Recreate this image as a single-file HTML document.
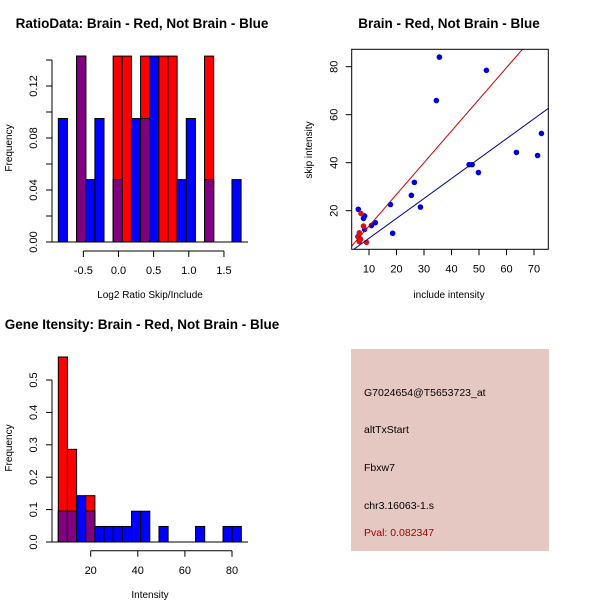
<!DOCTYPE html>
<html><head><meta charset="utf-8"><style>
body{margin:0;background:#fff}
svg{display:block;font-family:"Liberation Sans",sans-serif}
</style></head><body>
<svg id="s" width="600" height="600" xmlns="http://www.w3.org/2000/svg">
<rect width="600" height="600" fill="#fff"/>
</svg>
<script>
// ---------- Data ----------
const ratioBinStart = -0.856;
const ratioBinWidth = 0.130;
const ratioRed  = [0,0,0.143,0,0,0,0.143,0.143,0,0.143,0,0.143,0.143,0,0,0,0.143,0,0,0];
const ratioBlue = [0.095,0,0.143,0.048,0.095,0,0.048,0,0.095,0.095,0.143,0,0,0.048,0.095,0,0.048,0,0,0.048];
const ratioXTicks = [-0.5,0.0,0.5,1.0,1.5];
const ratioXTickLabels = ["-0.5","0.0","0.5","1.0","1.5"];
const ratioYTicks = [0,0.02,0.04,0.06,0.08,0.10,0.12,0.14];
const ratioYTickLabels = ["0.00","","0.04","","0.08","","0.12",""];

const scatterBlueX = [6.1,6.0,8.0,8.4,8.4,10.9,12.3,17.8,18.6,25.4,26.5,28.7,34.5,35.6,46.4,47.5,49.8,52.7,63.6,71.3,72.7];
const scatterBlueY = [20.6,9.2,16.8,17.8,12.2,13.8,15.0,22.6,10.6,26.4,31.8,21.5,65.9,84.0,39.2,39.2,35.9,78.5,44.3,43.0,52.2];
const scatterRedX = [7.1,8.0,6.5,6.9,6.5,9.1,6.2];
const scatterRedY = [18.8,13.6,10.8,8.2,7.1,6.8,9.0];
const redFit = [0.4,1.32];   // intercept, slope
const blueFit = [0.2,0.83];
const scatterXTicks = [10,20,30,40,50,60,70];
const scatterYTicks = [20,40,60,80];

const geneBinStart = 6.24;
const geneBinWidth = 3.886;
const geneRed  = [0.571,0.286,0,0.143,0,0,0,0,0,0,0,0,0,0,0,0,0,0,0,0];
const geneBlue = [0.095,0.095,0.143,0.095,0.048,0.048,0.048,0.048,0.095,0.095,0,0.048,0,0,0,0.048,0,0,0.048,0.048];
const geneXTicks = [20,40,60,80];
const geneYTicks = [0,0.1,0.2,0.3,0.4,0.5];
const geneYTickLabels = ["0.0","0.1","0.2","0.3","0.4","0.5"];

const infoLines = ["G7024654@T5653723_at","altTxStart","Fbxw7","chr3.16063-1.s"];
const pvalText = "Pval: 0.082347";

// ---------- Helpers ----------
const svg = document.getElementById('s');
const NS = "http://www.w3.org/2000/svg";
function mk(tag, attrs, text){
  const e = document.createElementNS(NS, tag);
  for (const k in attrs) e.setAttribute(k, attrs[k]);
  if (text !== undefined) e.textContent = text;
  svg.appendChild(e);
  return e;
}
function line(x1,y1,x2,y2,stroke,w){ return mk('line',{x1,y1,x2,y2,stroke:stroke||'#000','stroke-width':w||1}); }

// ---------- Panel 1: ratio histogram ----------
(function(){
  const rx = v => 118.5 + v*70.3;
  const ry = v => 242 - v*(52/0.04);
  let t = mk('text',{x:142,y:28,'text-anchor':'middle','font-size':13.5,'font-weight':'bold'},"RatioData: Brain - Red, Not Brain - Blue");
   
  for (let i=0;i<ratioRed.length;i++){
    const x0 = rx(ratioBinStart + i*ratioBinWidth), x1 = rx(ratioBinStart + (i+1)*ratioBinWidth);
    const r = ratioRed[i], b = ratioBlue[i], m = Math.min(r,b);
    if (r>0){ const e = mk('rect',{x:x0,y:ry(r),width:x1-x0,height:ry(0)-ry(r),fill:'#ff0000',stroke:'#000','stroke-width':1});
        }
    if (b>0){ const e = mk('rect',{x:x0,y:ry(b),width:x1-x0,height:ry(0)-ry(b),fill:'#0000ff',stroke:'#000','stroke-width':1});
        }
    if (m>0){ const e = mk('rect',{x:x0,y:ry(m),width:x1-x0,height:ry(0)-ry(m),fill:'#800080',stroke:'#000','stroke-width':1});
        }
  }
  line(52,ry(0),52,ry(0.14)); line(52,ry(0),248,ry(0));
  ratioYTicks.forEach((v,i)=>{ line(46,ry(v),52,ry(v));
    if (ratioYTickLabels[i]){ const e = mk('text',{x:0,y:0,transform:`translate(37,${ry(v)}) rotate(-90)`,'text-anchor':'middle','font-size':11},ratioYTickLabels[i]);
        }});
  line(rx(ratioXTicks[0]),251,rx(ratioXTicks[ratioXTicks.length-1]),251);
  ratioXTicks.forEach((v,i)=>{ line(rx(v),251,rx(v),257);
    const e = mk('text',{x:rx(v),y:274,'text-anchor':'middle','font-size':11},ratioXTickLabels[i]);
      });
  t = mk('text',{x:150,y:298,'text-anchor':'middle','font-size':10},"Log2 Ratio Skip/Include");
   
  t = mk('text',{x:0,y:0,transform:'translate(12,148) rotate(-90)','text-anchor':'middle','font-size':10},"Frequency");
   
})();

// ---------- Panel 2: scatter ----------
(function(){
  const L=351.7,R=548.3,T=49.3,B=249.3;
  const sx = v => 341.5 + v*2.75;
  const sy = v => 258.7 - v*2.4;
  let t = mk('text',{x:449,y:28,'text-anchor':'middle','font-size':13.5,'font-weight':'bold'},"Brain - Red, Not Brain - Blue");
   
  const defs = mk('defs',{}); const cp = document.createElementNS(NS,'clipPath'); cp.setAttribute('id','clip'); defs.appendChild(cp);
  const cr = document.createElementNS(NS,'rect'); cr.setAttribute('x',L); cr.setAttribute('y',T); cr.setAttribute('width',R-L); cr.setAttribute('height',B-T); cp.appendChild(cr);
  scatterBlueX.forEach((x,i)=>{ const e = mk('circle',{cx:sx(x),cy:sy(scatterBlueY[i]),r:2.8,fill:'#0000dd'});
      });
  scatterRedX.forEach((x,i)=>{ const e = mk('circle',{cx:sx(x),cy:sy(scatterRedY[i]),r:2.8,fill:'#dd1111'});
      });
  const xa=0, xb=100;
  let e = mk('line',{x1:sx(xa),y1:sy(redFit[0]+redFit[1]*xa),x2:sx(xb),y2:sy(redFit[0]+redFit[1]*xb),stroke:'#cc0000','stroke-width':1,'clip-path':'url(#clip)'});
   
  e = mk('line',{x1:sx(xa),y1:sy(blueFit[0]+blueFit[1]*xa),x2:sx(xb),y2:sy(blueFit[0]+blueFit[1]*xb),stroke:'#000099','stroke-width':1,'clip-path':'url(#clip)'});
   
  e = mk('rect',{x:L,y:T,width:R-L,height:B-T,fill:'none',stroke:'#000','stroke-width':1});
   
  scatterXTicks.forEach(v=>{ line(sx(v),B,sx(v),B+6);
    const e = mk('text',{x:sx(v),y:B+23,'text-anchor':'middle','font-size':11},String(v));
      });
  scatterYTicks.forEach(v=>{ line(L-6,sy(v),L,sy(v));
    const e = mk('text',{x:0,y:0,transform:`translate(${L-14},${sy(v)}) rotate(-90)`,'text-anchor':'middle','font-size':11},String(v));
      });
  t = mk('text',{x:449,y:298,'text-anchor':'middle','font-size':10},"include intensity");
   
  t = mk('text',{x:0,y:0,transform:'translate(312,150) rotate(-90)','text-anchor':'middle','font-size':10},"skip intensity");
   
})();

// ---------- Panel 3: gene intensity histogram ----------
(function(){
  const gx = v => 43.6 + v*2.355;
  const gy = v => 542 - v*324;
  let t = mk('text',{x:142,y:329,'text-anchor':'middle','font-size':13.5,'font-weight':'bold'},"Gene Itensity: Brain - Red, Not Brain - Blue");
   
  for (let i=0;i<geneRed.length;i++){
    const x0 = gx(geneBinStart + i*geneBinWidth), x1 = gx(geneBinStart + (i+1)*geneBinWidth);
    const r = geneRed[i], b = geneBlue[i], m = Math.min(r,b);
    if (r>0){ const e = mk('rect',{x:x0,y:gy(r),width:x1-x0,height:gy(0)-gy(r),fill:'#ff0000',stroke:'#000','stroke-width':1});
        }
    if (b>0){ const e = mk('rect',{x:x0,y:gy(b),width:x1-x0,height:gy(0)-gy(b),fill:'#0000ff',stroke:'#000','stroke-width':1});
        }
    if (m>0){ const e = mk('rect',{x:x0,y:gy(m),width:x1-x0,height:gy(0)-gy(m),fill:'#800080',stroke:'#000','stroke-width':1});
        }
  }
  line(52,gy(0),52,gy(0.5)); line(52,gy(0),248,gy(0));
  geneYTicks.forEach((v,i)=>{ line(46,gy(v),52,gy(v));
    const e = mk('text',{x:0,y:0,transform:`translate(37,${gy(v)}) rotate(-90)`,'text-anchor':'middle','font-size':11},geneYTickLabels[i]);
      });
  line(gx(geneXTicks[0]),550.7,gx(geneXTicks[geneXTicks.length-1]),550.7);
  geneXTicks.forEach(v=>{ line(gx(v),550.7,gx(v),556.7);
    const e = mk('text',{x:gx(v),y:574,'text-anchor':'middle','font-size':11},String(v));
      });
  t = mk('text',{x:150,y:598,'text-anchor':'middle','font-size':10},"Intensity");
   
  t = mk('text',{x:0,y:0,transform:'translate(12,448) rotate(-90)','text-anchor':'middle','font-size':10},"Frequency");
   
})();

// ---------- Panel 4: info box ----------
(function(){
  let e = mk('rect',{x:351,y:349,width:198,height:202,fill:'#e6c8c2'});
   
  const ys = [396,433,471,509];
  infoLines.forEach((s,i)=>{ const t = mk('text',{x:364,y:ys[i],'font-size':10.5,fill:'#000'},s);
      });
  const p = mk('text',{x:364,y:536,'font-size':10.5,fill:'#a00000'},pvalText);
   
})();
</script>
</body></html>
